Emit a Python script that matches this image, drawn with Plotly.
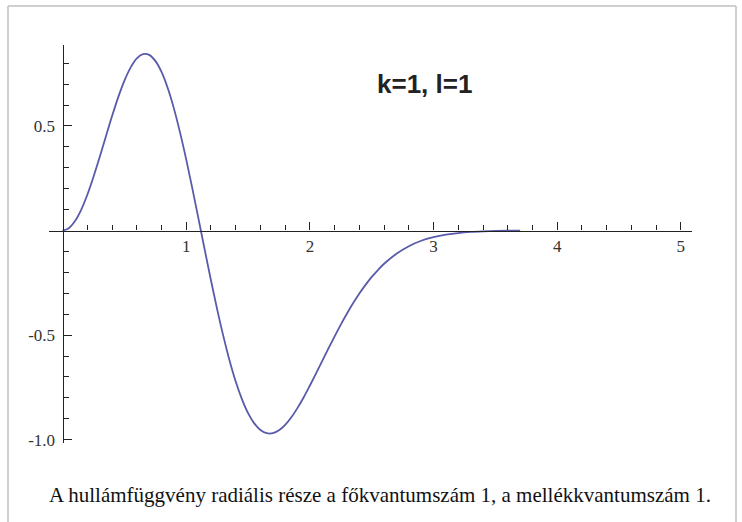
import plotly.graph_objects as go

# Curve values
x_values = [0.0, 0.05, 0.1, 0.15, 0.2, 0.25, 0.3, 0.35, 0.4, 0.45, 0.5, 0.55, 0.6, 0.65,
            0.7, 0.75, 0.8, 0.85, 0.9, 0.95, 1.0, 1.05, 1.1, 1.15, 1.2, 1.25, 1.3, 1.35,
            1.4, 1.45, 1.5, 1.55, 1.6, 1.65, 1.7, 1.75, 1.8, 1.85, 1.9, 1.95, 2.0, 2.05,
            2.1, 2.15, 2.2, 2.25, 2.3, 2.35, 2.4, 2.45, 2.5, 2.55, 2.6, 2.7, 2.8, 2.9,
            3.0, 3.1, 3.2, 3.3, 3.4, 3.5, 3.6, 3.7]
y_values = [0.000, 0.011, 0.045, 0.099, 0.171, 0.257, 0.351, 0.450, 0.547, 0.638, 0.717,
            0.779, 0.823, 0.843, 0.840, 0.811, 0.758, 0.681, 0.584, 0.468, 0.339, 0.199,
            0.053, -0.094, -0.239, -0.377, -0.505, -0.621, -0.722, -0.806, -0.873, -0.922,
            -0.954, -0.969, -0.969, -0.955, -0.929, -0.893, -0.848, -0.797, -0.741, -0.683,
            -0.623, -0.564, -0.506, -0.450, -0.397, -0.347, -0.301, -0.260, -0.222, -0.189,
            -0.159, -0.111, -0.075, -0.049, -0.032, -0.020, -0.012, -0.007, -0.004, -0.002,
            -0.001, -0.001]

x_tick_vals = [1, 2, 3, 4, 5]
x_tick_text = ["1", "2", "3", "4", "5"]
x_minor_vals = [0.2, 0.4, 0.6, 0.8, 1.2, 1.4, 1.6, 1.8, 2.2, 2.4, 2.6, 2.8,
                3.2, 3.4, 3.6, 3.8, 4.2, 4.4, 4.6, 4.8]
y_tick_vals = [0.5, -0.5, -1.0]
y_tick_text = ["0.5", "-0.5", "-1.0"]
y_minor_vals = [0.1, 0.2, 0.3, 0.4, 0.6, 0.7, 0.8,
                -0.1, -0.2, -0.3, -0.4, -0.6, -0.7, -0.8, -0.9]

label_text = "k=1, l=1"
caption_text = "A hullámfüggvény radiális része a főkvantumszám 1, a mellékkvantumszám 1."

X_RANGE = [-0.11, 5.09]
Y_RANGE = [-1.016, 0.887]

W, H = 742, 522
ML, MR, MT, MB = 49, 50, 45, 79
pw = W - ML - MR
ph = H - MT - MB

def px_to_paper_x(px):
    return (px - ML) / pw

def px_to_paper_y(py):
    return (H - MB - py) / ph

fig = go.Figure()
fig.add_trace(go.Scatter(
    x=x_values, y=y_values, mode="lines",
    line=dict(color="#5a5aaa", width=1.8, shape="spline", smoothing=1.0),
    hoverinfo="skip", showlegend=False,
))

tick_font = dict(family="Liberation Serif, Times New Roman, serif", size=17, color="#333333")
axis_color = "#222222"

fig.update_layout(
    width=W, height=H,
    margin=dict(l=ML, r=MR, t=MT, b=MB, pad=0),
    paper_bgcolor="white", plot_bgcolor="white",
    showlegend=False,
    xaxis=dict(
        range=X_RANGE, anchor="free",
        position=(0 - Y_RANGE[0]) / (Y_RANGE[1] - Y_RANGE[0]),
        showgrid=False, zeroline=False, showline=True, linecolor=axis_color, linewidth=1.3,
        tickmode="array", tickvals=x_tick_vals, ticktext=x_tick_text,
        ticks="inside", ticklen=8, tickwidth=1.2, tickcolor=axis_color,
        tickfont=tick_font, ticklabelstandoff=0,
        minor=dict(tickmode="array", tickvals=x_minor_vals, ticks="inside",
                   ticklen=5, tickwidth=1.1, tickcolor=axis_color, showgrid=False),
        fixedrange=True,
    ),
    yaxis=dict(
        range=Y_RANGE, anchor="free",
        position=(0 - X_RANGE[0]) / (X_RANGE[1] - X_RANGE[0]),
        showgrid=False, zeroline=False, showline=True, linecolor=axis_color, linewidth=1.3,
        tickmode="array", tickvals=y_tick_vals, ticktext=y_tick_text,
        ticks="inside", ticklen=8, tickwidth=1.2, tickcolor=axis_color,
        tickfont=tick_font, ticklabelstandoff=4,
        minor=dict(tickmode="array", tickvals=y_minor_vals, ticks="inside",
                   ticklen=5, tickwidth=1.1, tickcolor=axis_color, showgrid=False),
        fixedrange=True,
    ),
)

fig.add_annotation(
    x=2.93, y=0.70, xref="x", yref="y", text="<b>" + label_text + "</b>",
    showarrow=False, xanchor="center", yanchor="middle",
    font=dict(family="Liberation Sans, Arial, sans-serif", size=26, color="#222222"),
)

fig.add_annotation(
    x=px_to_paper_x(380), y=px_to_paper_y(495), xref="paper", yref="paper",
    text=caption_text, showarrow=False, xanchor="center", yanchor="middle",
    font=dict(family="Liberation Serif, Times New Roman, serif", size=21, color="#111111"),
)

# light grey frame around the figure (left, top, right edges)
frame_color = "#cfcfcf"
for (x0, y0, x1, y1) in [(8, 6, 736, 6), (8, 6, 8, 530), (736, 6, 736, 530)]:
    fig.add_shape(
        type="line", xref="paper", yref="paper",
        x0=px_to_paper_x(x0), x1=px_to_paper_x(x1),
        y0=px_to_paper_y(y0), y1=px_to_paper_y(y1),
        line=dict(color=frame_color, width=2), layer="below",
    )

fig.write_html("out.html", config={"displayModeBar": False},
               post_script="document.body.style.margin='0px';")
